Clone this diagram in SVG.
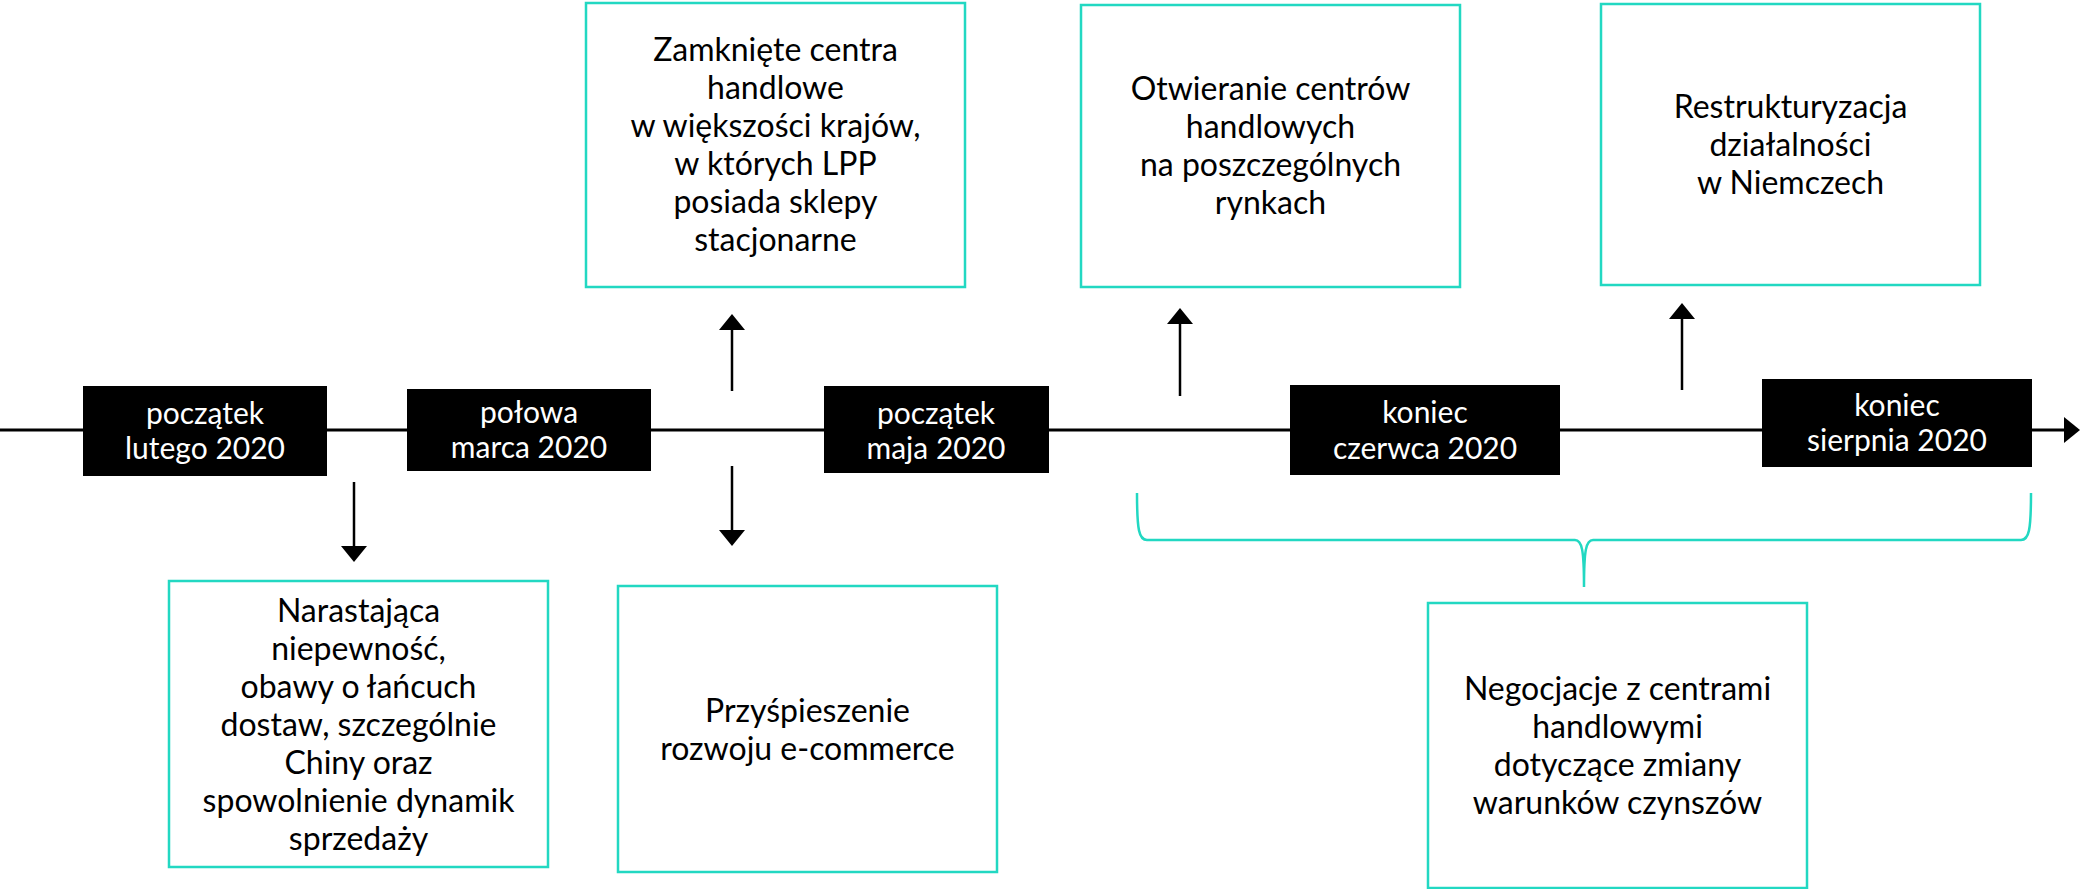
<svg xmlns="http://www.w3.org/2000/svg" width="2080" height="889" viewBox="0 0 2080 889">
<style>
.bg{fill:#ffffff}
.tbox{fill:#ffffff;stroke:#22d8c2;stroke-width:2.5}
.dbox{fill:#000000}
.tt{font-family:Lato,"Open Sans","Liberation Sans",sans-serif;font-size:32px;fill:#000000;text-anchor:middle}
.dt{font-family:Lato,"Open Sans","Liberation Sans",sans-serif;font-size:30px;fill:#ffffff;text-anchor:middle}
.ln{stroke:#000000;stroke-width:3;fill:none}
.ar{stroke:#000000;stroke-width:2.5;fill:none}
.hd{fill:#000000}
.brace{stroke:#22d8c2;stroke-width:2.5;fill:none}
</style>
<rect class="bg" x="0" y="0" width="2080" height="889"/>

<g id="connectors">
  <line class="ln" x1="0" y1="430" x2="2066" y2="430"/>
  <polygon class="hd" points="2064,417 2080,430 2064,443"/>
  <line class="ar" x1="354" y1="482" x2="354" y2="548"/>
  <polygon class="hd" points="341,546 367,546 354,562"/>
  <line class="ar" x1="732" y1="391" x2="732" y2="328"/>
  <polygon class="hd" points="719,330 745,330 732,314"/>
  <line class="ar" x1="732" y1="466" x2="732" y2="532"/>
  <polygon class="hd" points="719,530 745,530 732,546"/>
  <line class="ar" x1="1180" y1="396" x2="1180" y2="324"/>
  <polygon class="hd" points="1167,324 1193,324 1180,308"/>
  <line class="ar" x1="1682" y1="390" x2="1682" y2="319"/>
  <polygon class="hd" points="1669,319 1695,319 1682,303"/>
  <path class="brace" d="M1137,493 C1137,530 1139,540 1147,540 L1575,540 C1582,540 1584,550 1584,587 C1584,550 1586,540 1593,540 L2021,540 C2029,540 2031,530 2031,493"/>
</g>

<g id="d1">
  <rect class="dbox" x="83" y="386" width="244" height="90"/>
  <text class="dt" x="205" y="424">początek</text>
  <text class="dt" x="205" y="459">lutego 2020</text>
</g>
<g id="d2">
  <rect class="dbox" x="407" y="389" width="244" height="82"/>
  <text class="dt" x="529" y="423">połowa</text>
  <text class="dt" x="529" y="458">marca 2020</text>
</g>
<g id="d3">
  <rect class="dbox" x="824" y="386" width="225" height="87"/>
  <text class="dt" x="936" y="424">początek</text>
  <text class="dt" x="936" y="459">maja 2020</text>
</g>
<g id="d4">
  <rect class="dbox" x="1290" y="385" width="270" height="90"/>
  <text class="dt" x="1425" y="423">koniec</text>
  <text class="dt" x="1425" y="459">czerwca 2020</text>
</g>
<g id="d5">
  <rect class="dbox" x="1762" y="379" width="270" height="88"/>
  <text class="dt" x="1897" y="416">koniec</text>
  <text class="dt" x="1897" y="451">sierpnia 2020</text>
</g>

<g id="t1">
  <rect class="tbox" x="586" y="3" width="379" height="284"/>
  <text class="tt" x="775.5" y="61">Zamknięte centra</text>
  <text class="tt" x="775.5" y="99">handlowe</text>
  <text class="tt" x="775.5" y="137">w większości krajów,</text>
  <text class="tt" x="775.5" y="175">w których LPP</text>
  <text class="tt" x="775.5" y="213">posiada sklepy</text>
  <text class="tt" x="775.5" y="251">stacjonarne</text>
</g>
<g id="t2">
  <rect class="tbox" x="1081" y="5" width="379" height="282"/>
  <text class="tt" x="1270.5" y="100">Otwieranie centrów</text>
  <text class="tt" x="1270.5" y="138">handlowych</text>
  <text class="tt" x="1270.5" y="176">na poszczególnych</text>
  <text class="tt" x="1270.5" y="214">rynkach</text>
</g>
<g id="t3">
  <rect class="tbox" x="1601" y="4" width="379" height="281"/>
  <text class="tt" x="1790.5" y="118">Restrukturyzacja</text>
  <text class="tt" x="1790.5" y="156">działalności</text>
  <text class="tt" x="1790.5" y="194">w Niemczech</text>
</g>
<g id="b1">
  <rect class="tbox" x="169" y="581" width="379" height="286"/>
  <text class="tt" x="358.5" y="622">Narastająca</text>
  <text class="tt" x="358.5" y="660">niepewność,</text>
  <text class="tt" x="358.5" y="698">obawy o łańcuch</text>
  <text class="tt" x="358.5" y="736">dostaw, szczególnie</text>
  <text class="tt" x="358.5" y="774">Chiny oraz</text>
  <text class="tt" x="358.5" y="812">spowolnienie dynamik</text>
  <text class="tt" x="358.5" y="850">sprzedaży</text>
</g>
<g id="b2">
  <rect class="tbox" x="618" y="586" width="379" height="286"/>
  <text class="tt" x="807.5" y="722">Przyśpieszenie</text>
  <text class="tt" x="807.5" y="760">rozwoju e-commerce</text>
</g>
<g id="b3">
  <rect class="tbox" x="1428" y="603" width="379" height="285"/>
  <text class="tt" x="1617.5" y="700">Negocjacje z centrami</text>
  <text class="tt" x="1617.5" y="738">handlowymi</text>
  <text class="tt" x="1617.5" y="776">dotyczące zmiany</text>
  <text class="tt" x="1617.5" y="814">warunków czynszów</text>
</g>
</svg>
